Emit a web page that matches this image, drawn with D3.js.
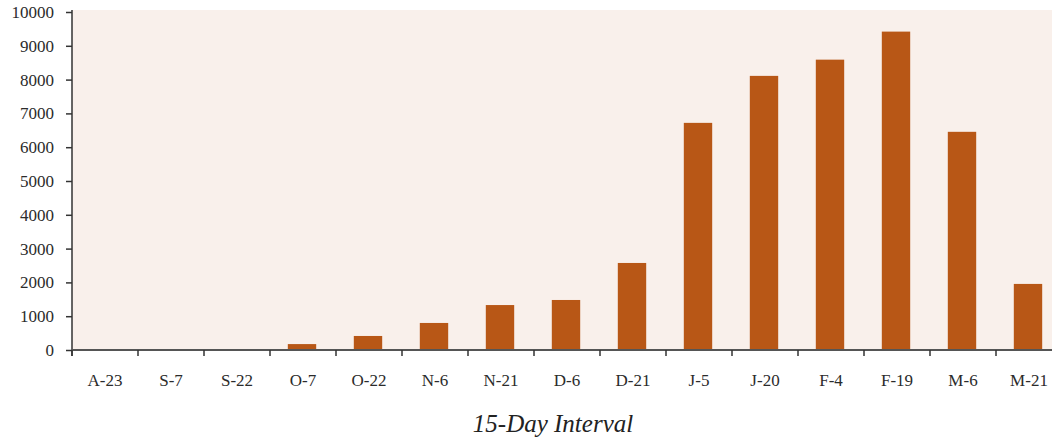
<!DOCTYPE html>
<html>
<head>
<meta charset="utf-8">
<script src="https://cdn.jsdelivr.net/npm/d3@7"></script>
<style>
  body { margin: 0; background: #fff; }
  svg { display: block; }
  .tick text { font-family: "Liberation Serif", "DejaVu Serif", serif; fill: #2b2b2b; }
</style>
</head>
<body>
<script>
var intervals = ["A-23", "S-7", "S-22", "O-7", "O-22", "N-6", "N-21", "D-6", "D-21", "J-5", "J-20", "F-4", "F-19", "M-6", "M-21"];
var counts = [0, 0, 0, 175, 415, 800, 1330, 1480, 2575, 6720, 8110, 8590, 9420, 6455, 1955];
var yTicks = [0, 1000, 2000, 3000, 4000, 5000, 6000, 7000, 8000, 9000, 10000];

var width = 1052, height = 441;
var plotLeft = 72, plotBottom = 350, plotTop = 12;

var svg = d3.select("body").append("svg").attr("width", width).attr("height", height);

var x = d3.scaleBand().domain(intervals).range([plotLeft, plotLeft + 66 * intervals.length]).padding(0);
var y = d3.scaleLinear().domain([0, 10000]).range([plotBottom, plotTop]);

// background
svg.append("rect")
  .attr("x", plotLeft).attr("y", 10)
  .attr("width", width - plotLeft).attr("height", plotBottom - 10)
  .attr("fill", "#f9f0eb");

var barW = x.bandwidth() * 0.43;
svg.selectAll("rect.bar")
  .data(counts)
  .enter().append("rect")
    .attr("class", "bar")
    .attr("x", function(d, i){ return x(intervals[i]) + (x.bandwidth() - barW) / 2 - 1; })
    .attr("y", function(d){ return y(d); })
    .attr("width", barW)
    .attr("height", function(d){ return plotBottom - y(d); })
    .attr("fill", "#b85716");

// y axis
var yAxis = svg.append("g")
  .attr("transform", "translate(" + plotLeft + ",0)")
  .call(d3.axisLeft(y).tickValues(yTicks).tickSize(6).tickPadding(12).tickFormat(d3.format("d")));
yAxis.select(".domain").attr("d", "M0,10V356").attr("stroke", "#333").attr("stroke-width", 1.5);
yAxis.selectAll(".tick line").attr("stroke", "#333").attr("stroke-width", 1.5);
yAxis.selectAll(".tick text").style("font-size", "17px");

// x axis: ticks on the band edges
var xAxis = svg.append("g")
  .attr("transform", "translate(0," + plotBottom + ")")
  .call(d3.axisBottom(x).tickSize(0).tickPadding(24));
xAxis.select(".domain").attr("d", "M" + plotLeft + ",0H" + width).attr("stroke", "#555").attr("stroke-width", 2);
xAxis.selectAll(".tick text").style("font-size", "17px");

svg.append("g").selectAll("line")
  .data(intervals)
  .enter().append("line")
    .attr("x1", function(d){ return x(d); })
    .attr("x2", function(d){ return x(d); })
    .attr("y1", plotBottom)
    .attr("y2", plotBottom + 6)
    .attr("stroke", "#333")
    .attr("stroke-width", 1.5);

svg.append("text")
  .text("15-Day Interval")
  .attr("x", 553)
  .attr("y", 432)
  .attr("text-anchor", "middle")
  .attr("font-family", "'Liberation Serif', 'DejaVu Serif', serif")
  .attr("font-style", "italic")
  .attr("font-size", 25)
  .attr("fill", "#222");
</script>
</body>
</html>
